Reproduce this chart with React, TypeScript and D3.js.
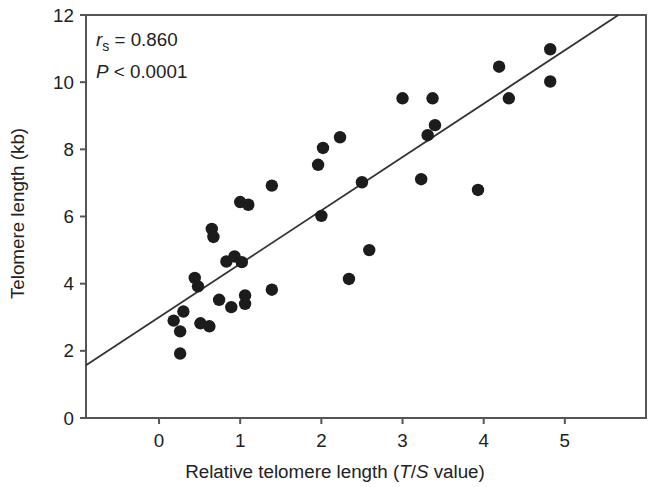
import React from "react";
import { scaleLinear } from "d3";

// relative telomere length (T/S) and telomere length (kb)
const tsValues = [
  0.18, 0.26, 0.26, 0.30, 0.44, 0.48, 0.51, 0.62, 0.65, 0.67, 0.74, 0.89, 0.83,
  0.93, 1.02, 1.06, 1.06, 1.00, 1.10, 1.39, 1.39, 1.96, 2.02, 2.23, 2.50, 2.00,
  2.59, 2.34, 3.00, 3.37, 3.40, 3.31, 3.23, 3.93, 4.19, 4.82, 4.82, 4.31,
];
const kbValues = [
  2.90, 2.58, 1.92, 3.17, 4.17, 3.92, 2.82, 2.73, 5.63, 5.39, 3.52, 3.30, 4.66,
  4.81, 4.64, 3.65, 3.40, 6.43, 6.35, 6.92, 3.82, 7.54, 8.04, 8.36, 7.02, 6.02,
  5.00, 4.14, 9.52, 9.52, 8.72, 8.42, 7.11, 6.79, 10.46, 10.98, 10.02, 9.52,
];
const xTicks = [0, 1, 2, 3, 4, 5];
const yTicks = [0, 2, 4, 6, 8, 10, 12];
// fitted line y = a + b x
const fitIntercept = 3.0;
const fitSlope = 1.59;

const W = 649;
const H = 487;
const left = 86;
const right = 646;
const top = 15;
const bottom = 418;
const font = "'Liberation Sans', Arial, Helvetica, sans-serif";
const fs = 18.8;

export default function App() {
  const x = scaleLinear().domain([-0.9, 6]).range([left, right]);
  const y = scaleLinear().domain([0, 12]).range([bottom, top]);

  // clip the fitted line to the plot box
  const x0 = x.domain()[0];
  const x1 = Math.min(x.domain()[1], (12 - fitIntercept) / fitSlope);
  const axisColor = "#555";

  return (
    <svg width={W} height={H} style={{ position: "absolute", left: 0, top: 0, background: "#fff" }}>
      <rect x={left} y={top} width={right - left} height={bottom - top} fill="none" stroke={axisColor} strokeWidth={2} />
      <line x1={left - 6} x2={left} y1={bottom} y2={bottom} stroke={axisColor} strokeWidth={2} />

      {yTicks.map((t) => (
        <g key={"y" + t}>
          <line x1={left - 6} x2={left} y1={y(t)} y2={y(t)} stroke={axisColor} strokeWidth={2} />
          <text x={left - 12} y={y(t)} dy="0.35em" textAnchor="end" fontFamily={font} fontSize={fs} fill="#222">
            {t}
          </text>
        </g>
      ))}
      {xTicks.map((t) => (
        <g key={"x" + t}>
          <line x1={x(t)} x2={x(t)} y1={bottom} y2={bottom + 6} stroke={axisColor} strokeWidth={2} />
          <text x={x(t)} y={bottom + 29} textAnchor="middle" fontFamily={font} fontSize={fs} fill="#222">
            {t}
          </text>
        </g>
      ))}

      <line
        x1={x(x0)}
        y1={y(fitIntercept + fitSlope * x0)}
        x2={x(x1)}
        y2={y(fitIntercept + fitSlope * x1)}
        stroke="#333"
        strokeWidth={1.8}
      />

      {tsValues.map((v, i) => (
        <circle key={i} cx={x(v)} cy={y(kbValues[i])} r={6.2} fill="#1c1c1c" />
      ))}

      <text x={96} y={46} fontFamily={font} fontSize={fs} fill="#222">
        <tspan fontStyle="italic">r</tspan>
        <tspan fontSize={14} dy={5}>s</tspan>
        <tspan dy={-5}> = 0.860</tspan>
      </text>
      <text x={96} y={78} fontFamily={font} fontSize={fs} fill="#222">
        <tspan fontStyle="italic">P</tspan>
        <tspan> &lt; 0.0001</tspan>
      </text>

      <text x={335} y={478} textAnchor="middle" fontFamily={font} fontSize={fs} fill="#222">
        Relative telomere length (<tspan fontStyle="italic">T</tspan>/<tspan fontStyle="italic">S</tspan> value)
      </text>
      <text
        transform={`translate(24, ${(top + bottom) / 2 - 3}) rotate(-90)`}
        textAnchor="middle"
        fontFamily={font}
        fontSize={fs}
        fill="#222"
      >
        Telomere length (kb)
      </text>
    </svg>
  );
}
